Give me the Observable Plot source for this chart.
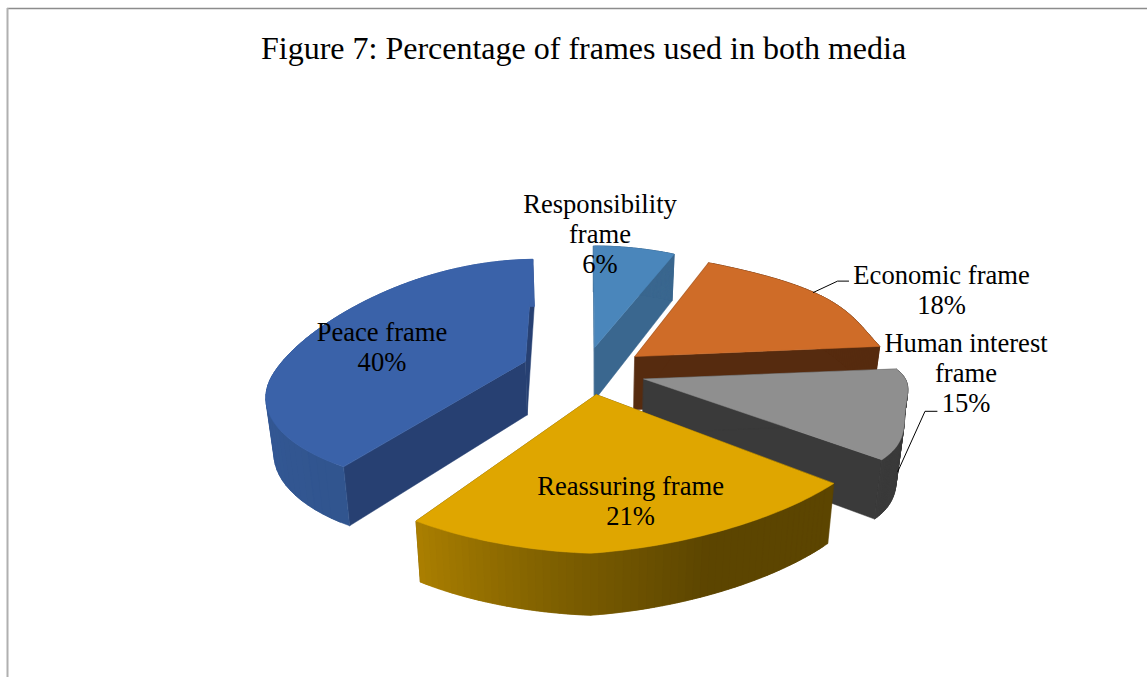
<!DOCTYPE html>
<html>
<head>
<meta charset="utf-8">
<script src="https://cdn.jsdelivr.net/npm/d3@7"></script>
<script src="https://cdn.jsdelivr.net/npm/@observablehq/plot@0.6"></script>
<style>html,body{margin:0;padding:0;background:#fff}svg{display:block}</style>
</head>
<body>
<div id="chart"></div>
<script>
const title = "Figure 7: Percentage of frames used in both media";
const categories = ["Responsibility frame", "Economic frame", "Human interest frame", "Reassuring frame", "Peace frame"];
const labelLines = ["Responsibility\nframe", "Economic frame", "Human interest\nframe", "Reassuring frame", "Peace frame"];
const shares = [6, 18, 15, 21, 40];
const explode = [0.215, 0.22, 0.22, 0.225, 0.265];
const explodeTurn = [-6, 0, 0, -4, 0];
const rimFlatten = [0, -0.05, 0.05, 0, 0.055];
const rimStartCut = [0, 0, 0.02, 0, 0];
const topColors = ["#4a86bb", "#cf6c28", "#8f8f8f", "#dfa600", "#3a62a9"];
const cutColors = ["#3a678f", "#562b0f", "#3a3a3a", "#5c4500", "#274072"];
const rimRamp = [["#3a678f","#3a678f"], ["#562b0f","#562b0f"], ["#3a3a3a","#3a3a3a"], ["#5c4500","#5c4500","#7f6000","#ac8000"], ["#31558f","#3b61a6"]];
const labelDx = [-20, 192, 160, 11, -5];
const labelDy = [-55, -34, -27, 24, 1.5];
const drawOrder = [0, 1, 2, 3, 4];

// view model of the tilted pie
const W = 1147, H = 677, cx = 590, cy = 370, A = 261, B = 104;
const rad = d => d * Math.PI / 180;
const warp = t => {
  let w = t - 4.5 * (1 - Math.cos(rad(t))) / 2;
  if (t < 90) w += 4 * Math.sin(rad(2 * t)) ** 2;
  if (t > 180 && t < 270) w -= 1.5 * Math.sin(rad(2 * (t - 180))) ** 2;
  if (t > 270) w -= 1.5 * Math.pow((1 + Math.cos(rad(t))) / 2, 4);
  return w;
};
const total = d3.sum(shares);
let acc = 0;
const slices = shares.map((s, i) => {
  const a0 = acc / total * 360; acc += s;
  const a1 = acc / total * 360;
  return {i, a0, a1, mid: (a0 + a1) / 2, e: explode[i]};
});
const rimR = (sl, t) => {
  const f = (t - sl.a0) / (sl.a1 - sl.a0);
  return 1 - rimFlatten[sl.i] * Math.sin(f * Math.PI) ** 2 - rimStartCut[sl.i] * (1 - f);
};
function project(sl, r, theta, drop = 0) {
  const w = rad(warp(theta)), m = rad(sl.mid + explodeTurn[sl.i]);
  const u = sl.e * Math.sin(m) + r * Math.sin(w);
  const v = sl.e * Math.cos(m) + r * Math.cos(w);
  let sx = A * u / (1 + 0.25 * v);
  let sy = -B * v / (1 + (v < 0 ? 0.25 : 0.015) * v);
  if (v < 0 && sx > 0) sy += 0.068 * sx * v;
  if (v < 0 && sx < 0) sy += 0.02 * sx * -v;
  const depth = (54 - 6.5 * v) * drop;
  return [cx + sx * (1 - 0.025 * drop), cy + sy + depth];
}
const polys = [];
let pid = 0;
function pushRow(id, fill, p, q) { polys.push({id, fill, x1: p[0], y1: p[1], x2: q[0], y2: q[1]}); }
const arcSteps = sl => d3.range(0, 61).map(k => sl.a0 + (sl.a1 - sl.a0) * k / 60);
for (const i of drawOrder) {
  const sl = slices[i];
  // cut faces
  for (const t of [sl.a1, sl.a0]) {
    const id = pid++;
    pushRow(id, cutColors[i], project(sl, 0, t), project(sl, 0, t, 1));
    pushRow(id, cutColors[i], project(sl, rimR(sl, t), t), project(sl, rimR(sl, t), t, 1));
  }
  // outer wall: each strip overlaps the next so that no seams show
  const arc = arcSteps(sl), ramp = d3.piecewise(d3.interpolateRgb, rimRamp[i]);
  for (let k = arc.length - 2; k >= 0; k--) {
    const id = pid++, c = d3.rgb(ramp(k / (arc.length - 2))).formatHex();
    for (const t of [arc[k], arc[k + 1]].concat(k < arc.length - 2 ? [arc[k + 2]] : [])) {
      pushRow(id, c, project(sl, rimR(sl, t), t), project(sl, rimR(sl, t), t, 1));
    }
  }
  // top face
  const id = pid++;
  for (const t of arc) pushRow(id, topColors[i], project(sl, 0, t), project(sl, rimR(sl, t), t));
}
const labels = slices.map(sl => {
  const p = project(sl, 0.6, sl.mid);
  return {x: p[0] + labelDx[sl.i], y: p[1] + labelDy[sl.i], text: `${labelLines[sl.i]}\n${shares[sl.i]}%`};
});
const ec = labels[1], hu = labels[2];
const leaders = [
  {id: "e", p: project(slices[1], rimR(slices[1], 50), 50)}, {id: "e", p: [ec.x - 104, ec.y - 8]}, {id: "e", p: [ec.x - 93, ec.y - 8]},
  {id: "h", p: project(slices[2], rimR(slices[2], 118), 118, 0.95)}, {id: "h", p: [hu.x - 41, hu.y + 39]}, {id: "h", p: [hu.x - 29, hu.y + 39]}
];
const chart = Plot.plot({
  width: W, height: H, margin: 0, axis: null,
  x: {domain: [0, W], range: [0, W]},
  y: {domain: [0, H], range: [0, H]},
  color: {type: "identity"},
  style: {background: "#fff", fontFamily: "'Liberation Serif'"},
  marks: [
    Plot.ruleY([8], {x1: 7, x2: W, stroke: "#8c8c8c", strokeWidth: 1.4}),
    Plot.ruleX([7], {y1: 8, y2: H, stroke: "#b0b0b0", strokeWidth: 2}),
    Plot.area(polys, {x1: "x1", y1: "y1", x2: "x2", y2: "y2", z: "id", fill: "fill", stroke: "fill", strokeWidth: 0.5}),
    Plot.line(leaders, {x: d => d.p[0], y: d => d.p[1], z: "id", stroke: "#000", strokeWidth: 1}),
    Plot.text(labels, {x: "x", y: "y", text: "text", fontSize: 26.6, lineHeight: 1.128, fill: "#000", textAnchor: "middle"}),
    Plot.text([title], {x: () => 583, y: () => 48, text: d => d, fontSize: 32, fill: "#000", textAnchor: "middle"})
  ]
});
document.getElementById("chart").append(chart);
</script>
</body>
</html>
